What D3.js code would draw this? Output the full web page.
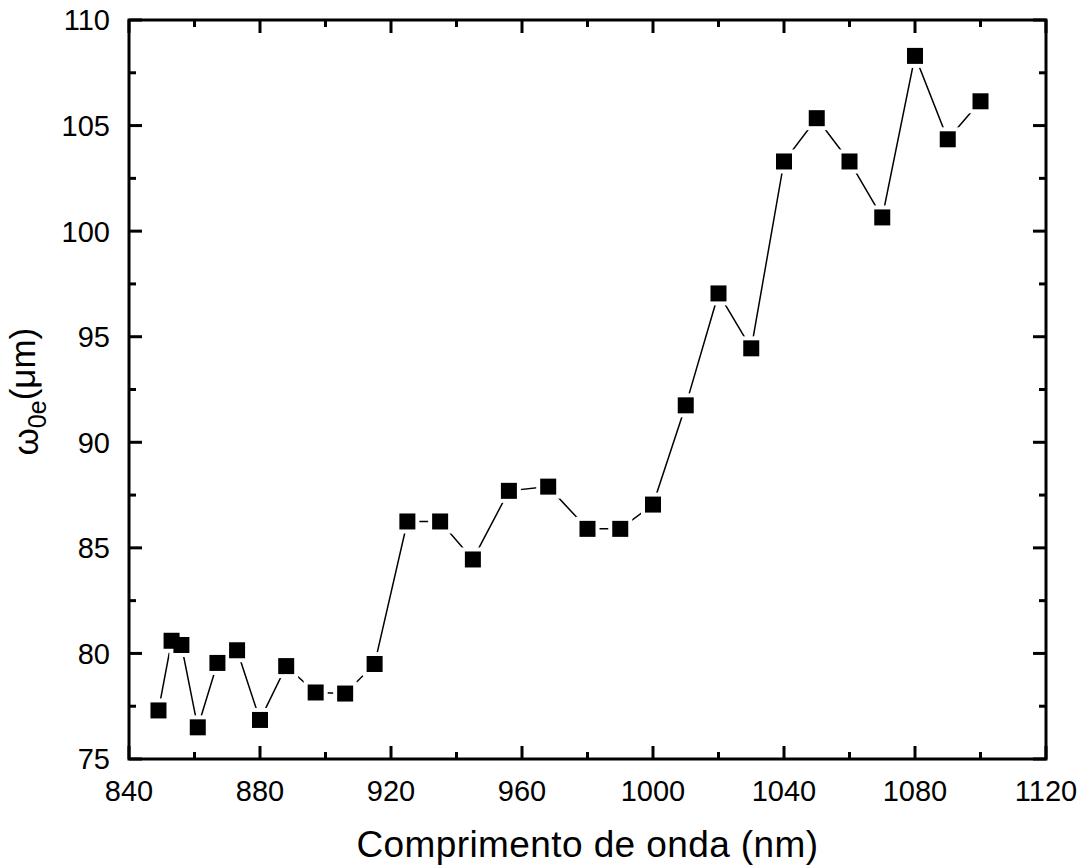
<!DOCTYPE html>
<html lang="en">
<head>
    <meta charset="UTF-8">
    <title>Comprimento de onda</title>
    <script src="https://d3js.org/d3.v7.min.js"></script>
    <style>
        body { margin: 0; background: #fff; }
        text { font-family: "Liberation Sans", Arial, sans-serif; fill: #000; }
    </style>
</head>
<body>
    <div id="chart"></div>

    <script>
        // Wavelength (nm) and beam waist values (µm)
        const wavelength = [849, 853, 856, 861, 867, 873, 880, 888, 897, 906, 915,
            925, 935, 945, 956, 968, 980, 990, 1000, 1010, 1020, 1030,
            1040, 1050, 1060, 1070, 1080, 1090, 1100];
        const waist = [77.3, 80.6, 80.4, 76.5, 79.55, 80.15, 76.85, 79.4, 78.15, 78.1, 79.5,
            86.25, 86.25, 84.45, 87.7, 87.9, 85.9, 85.9, 87.05, 91.75, 97.05, 94.45,
            103.3, 105.35, 103.3, 100.65, 108.3, 104.35, 106.15];
        const xTicks = [840, 880, 920, 960, 1000, 1040, 1080, 1120];
        const yTicks = [75, 80, 85, 90, 95, 100, 105, 110];

        const points = wavelength.map((w, i) => ({ x: w, y: waist[i] }));

        // Chart dimensions
        const margin = { top: 20, right: 39, bottom: 109, left: 129 };
        const W = 1085, H = 868;
        const width = W - margin.left - margin.right;
        const height = H - margin.top - margin.bottom;

        const svg = d3.select("#chart")
            .append("svg")
            .attr("width", W)
            .attr("height", H)
            .append("g")
            .attr("transform", `translate(${margin.left},${margin.top})`);

        const x = d3.scaleLinear().domain([840, 1120]).range([0, width]);
        const y = d3.scaleLinear().domain([75, 110]).range([height, 0]);

        const xMinor = d3.range(840, 1121, 20).filter(v => !xTicks.includes(v));
        const yMinor = d3.range(75, 110.1, 2.5).filter(v => !yTicks.includes(v));

        // Inward ticks on all four sides
        const tickG = svg.append("g").attr("stroke", "#000").attr("stroke-width", 3);
        const major = 13, minor = 7;
        xTicks.concat(xMinor).forEach(v => {
            const len = xTicks.includes(v) ? major : minor;
            tickG.append("line").attr("x1", x(v)).attr("x2", x(v)).attr("y1", height).attr("y2", height - len);
            tickG.append("line").attr("x1", x(v)).attr("x2", x(v)).attr("y1", 0).attr("y2", len);
        });
        yTicks.concat(yMinor).forEach(v => {
            const len = yTicks.includes(v) ? major : minor;
            tickG.append("line").attr("y1", y(v)).attr("y2", y(v)).attr("x1", 0).attr("x2", len);
            tickG.append("line").attr("y1", y(v)).attr("y2", y(v)).attr("x1", width).attr("x2", width - len);
        });

        // Frame
        svg.append("rect")
            .attr("width", width)
            .attr("height", height)
            .attr("fill", "none")
            .attr("stroke", "#000")
            .attr("stroke-width", 3);

        // Tick labels
        svg.append("g").selectAll("text")
            .data(xTicks)
            .join("text")
            .attr("x", d => x(d))
            .attr("y", height + 42)
            .attr("text-anchor", "middle")
            .attr("font-size", "29px")
            .text(d => d);

        svg.append("g").selectAll("text")
            .data(yTicks)
            .join("text")
            .attr("x", -19)
            .attr("y", d => y(d))
            .attr("dy", "0.36em")
            .attr("text-anchor", "end")
            .attr("font-size", "29px")
            .text(d => d);

        // Axis titles
        svg.append("text")
            .attr("x", width / 2)
            .attr("y", height + 98)
            .attr("text-anchor", "middle")
            .attr("font-size", "37px")
            .attr("letter-spacing", "0.4px")
            .text("Comprimento de onda (nm)");

        const yt = svg.append("text")
            .attr("transform", `translate(${-91},${y(92.4)}) rotate(-90)`)
            .attr("text-anchor", "middle")
            .attr("font-size", "35px");
        yt.append("tspan").text("ω");
        yt.append("tspan").attr("font-size", "25px").attr("dy", "0.3em").text("0e");
        yt.append("tspan").attr("dy", "-0.3em").text("(μm)");

        // Connecting line
        svg.append("path")
            .datum(points)
            .attr("fill", "none")
            .attr("stroke", "#000")
            .attr("stroke-width", 1.5)
            .attr("d", d3.line().x(d => x(d.x)).y(d => y(d.y)));

        // White pads to open a small gap where the line meets each marker
        const s = 16, pad = 4;
        svg.append("g").selectAll("rect")
            .data(points)
            .join("rect")
            .attr("x", d => x(d.x) - s / 2 - pad)
            .attr("y", d => y(d.y) - s / 2 - pad)
            .attr("width", s + 2 * pad)
            .attr("height", s + 2 * pad)
            .attr("fill", "#fff");

        // Square markers
        svg.append("g").selectAll("rect")
            .data(points)
            .join("rect")
            .attr("x", d => x(d.x) - s / 2)
            .attr("y", d => y(d.y) - s / 2)
            .attr("width", s)
            .attr("height", s)
            .attr("fill", "#000");
    </script>
</body>
</html>
